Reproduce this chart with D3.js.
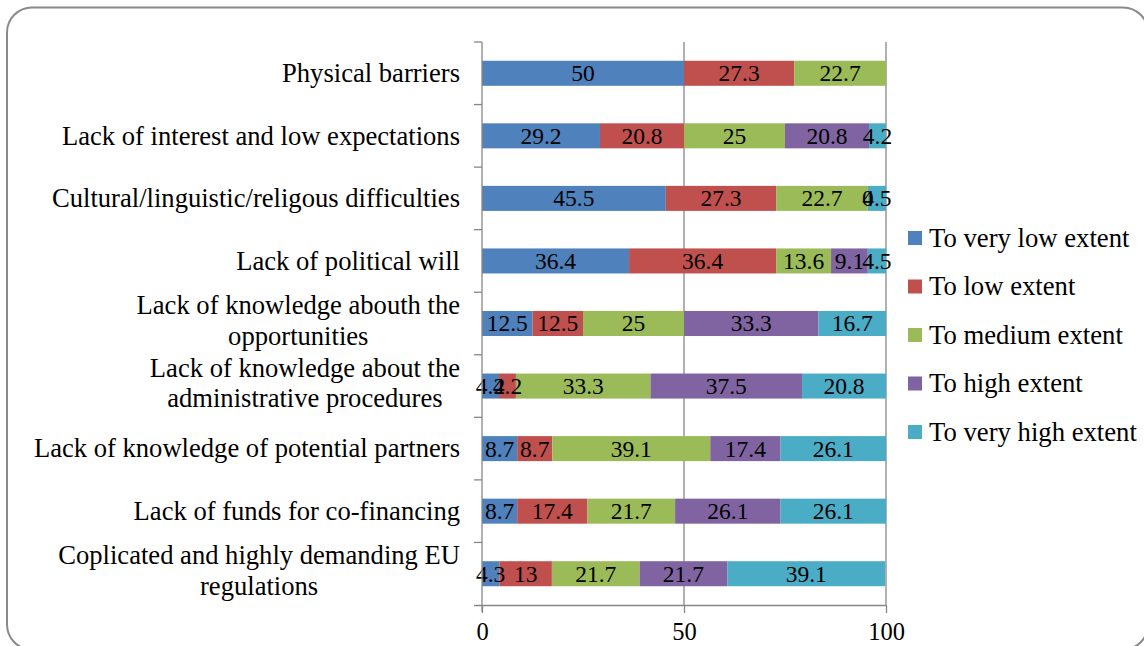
<!DOCTYPE html>
<html>
<head>
<meta charset="utf-8">
<script src="https://d3js.org/d3.v7.min.js"></script>
<style>
    body { margin: 0; background: #fff; }
    .frame { fill: none; stroke: #8a8a8a; stroke-width: 2px; }
    .grid line { stroke: #878787; stroke-width: 1.3px; }
</style>
</head>
<body>
<svg width="1144" height="646" font-family="Liberation Serif"></svg>
<script>
    const categories = [
        ["Physical barriers"],
        ["Lack of interest and low expectations"],
        ["Cultural/linguistic/religous difficulties"],
        ["Lack of political will"],
        ["Lack of knowledge abouth the", "opportunities"],
        ["Lack of knowledge about the", "administrative procedures"],
        ["Lack of knowledge of potential partners"],
        ["Lack of funds for co-financing"],
        ["Coplicated and highly demanding EU", "regulations"]
    ];
    const seriesNames = ["To very low extent", "To low extent", "To medium extent", "To high extent", "To very high extent"];
    const colors = ["#4f81bd", "#c0504d", "#9bbb59", "#8064a2", "#4bacc6"];
    // one array per series, same order as categories
    const veryLow = [50, 29.2, 45.5, 36.4, 12.5, 4.2, 8.7, 8.7, 4.3];
    const low = [27.3, 20.8, 27.3, 36.4, 12.5, 4.2, 8.7, 17.4, 13];
    const medium = [22.7, 25, 22.7, 13.6, 25, 33.3, 39.1, 21.7, 21.7];
    const high = [null, 20.8, 0, 9.1, 33.3, 37.5, 17.4, 26.1, 21.7];
    const veryHigh = [null, 4.2, 4.5, 4.5, 16.7, 20.8, 26.1, 26.1, 39.1];
    const xTicks = [0, 50, 100];

    const series = [veryLow, low, medium, high, veryHigh];
    const FONT = "Liberation Serif";

    const svg = d3.select("svg");

    // outer chart frame (runs past the right and bottom edges)
    svg.append("rect").attr("class", "frame")
        .attr("x", 7).attr("y", 7.5).attr("width", 1141).attr("height", 642)
        .attr("rx", 25).attr("ry", 25);

    const x = d3.scaleLinear().domain([0, 100]).range([482, 886]);
    const y = d3.scaleBand().domain(d3.range(categories.length)).range([42, 605]).paddingInner(0.6).paddingOuter(0.3);
    const yOuter = d3.scaleBand().domain(d3.range(categories.length)).range([42, 605]);

    // vertical grid lines
    const grid = svg.append("g").attr("class", "grid");
    grid.selectAll("line").data(xTicks.slice(1)).join("line")
        .attr("x1", d => x(d)).attr("x2", d => x(d))
        .attr("y1", 42).attr("y2", 605);

    // stacked bars
    categories.forEach((c, i) => {
        let acc = 0;
        series.forEach((s, k) => {
            const v = s[i];
            if (v === null) return;
            const x0 = x(acc), x1 = x(acc + v);
            acc += v;
            svg.append("rect")
                .attr("x", x0).attr("y", y(i))
                .attr("width", Math.max(0, x1 - x0)).attr("height", y.bandwidth())
                .attr("fill", colors[k]);
        });
    });

    // value labels
    categories.forEach((c, i) => {
        let acc = 0;
        series.forEach((s, k) => {
            const v = s[i];
            if (v === null) return;
            const mid = x(acc + v / 2);
            acc += v;
            svg.append("text")
                .attr("font-family", FONT).attr("font-size", 23.5)
                .attr("x", mid).attr("y", y(i) + y.bandwidth() / 2)
                .attr("dy", "0.34em").attr("text-anchor", "middle")
                .text(v);
        });
    });

    // axes
    const xAxis = svg.append("g").attr("transform", "translate(0,605)")
        .call(d3.axisBottom(x).tickValues(xTicks).tickSize(8).tickPadding(10).tickFormat(d3.format("d")));
    xAxis.attr("font-family", FONT).attr("font-size", 24.5);
    xAxis.select(".domain").attr("stroke", "#878787").attr("stroke-width", 1.3)
        .attr("d", `M${x(0) - 8},0.5H${x(100)}`);
    xAxis.selectAll(".tick line").attr("stroke", "#878787").attr("stroke-width", 1.3);
    xAxis.selectAll(".tick text").attr("fill", "#000");

    const yAxisG = svg.append("g");
    yAxisG.append("line").attr("x1", x(0)).attr("x2", x(0)).attr("y1", 42).attr("y2", 612)
        .attr("stroke", "#878787").attr("stroke-width", 1.3);
    yAxisG.selectAll("line.tk").data(d3.range(categories.length)).join("line").attr("class", "tk")
        .attr("x1", x(0) - 8).attr("x2", x(0))
        .attr("y1", d => yOuter(d)).attr("y2", d => yOuter(d))
        .attr("stroke", "#878787").attr("stroke-width", 1.3);

    // category labels (wrapped lines centred on each other, block right-aligned)
    categories.forEach((lines, i) => {
        let cy = yOuter(i) + yOuter.bandwidth() / 2;
        const lh = 30.5;
        if (lines.length > 1) cy -= 3;
        const top = cy - (lines.length - 1) * lh / 2;
        const texts = lines.map((l, j) => svg.append("text")
            .attr("font-family", FONT).attr("font-size", 26.6)
            .attr("y", top + j * lh).attr("dy", "0.33em").text(l));
        const widths = texts.map(t => t.node().getComputedTextLength());
        const maxW = d3.max(widths);
        const center = 460 - maxW / 2;
        texts.forEach(t => t.attr("x", center).attr("text-anchor", "middle"));
    });

    // legend
    const legend = svg.append("g");
    seriesNames.forEach((name, k) => {
        const ly = 238 + k * 48.5;
        legend.append("rect").attr("x", 908).attr("y", ly - 7).attr("width", 14).attr("height", 14).attr("fill", colors[k]);
        legend.append("text").attr("font-family", FONT).attr("font-size", 26.7)
            .attr("x", 929).attr("y", ly).attr("dy", "0.33em").text(name);
    });
</script>
</body>
</html>
